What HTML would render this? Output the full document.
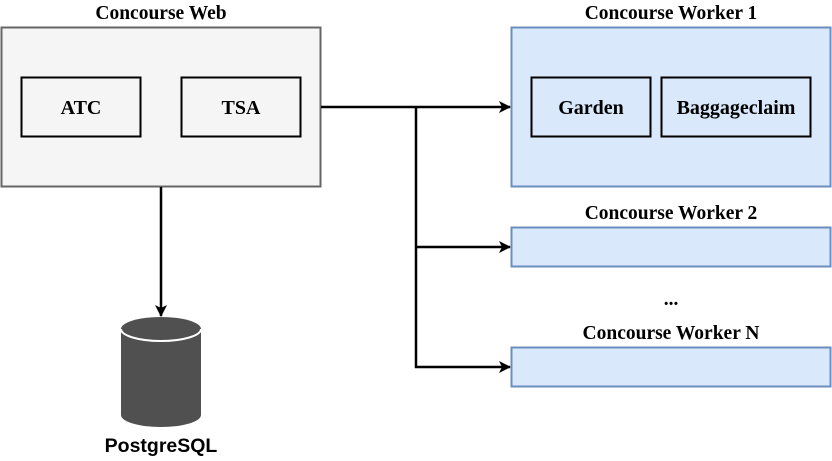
<!DOCTYPE html>
<html><head><style>body{margin:0;background:#fff}</style></head><body>
<svg width="832" height="456" xmlns="http://www.w3.org/2000/svg" font-family="Liberation Serif, serif" font-weight="bold">
<defs><marker id="a" markerWidth="12" markerHeight="12" refX="11" refY="6" orient="auto" markerUnits="userSpaceOnUse"><path d="M0,0 L12,6 L0,12 L3,6 z" fill="#000"/></marker></defs>
<rect x="1.5" y="27.5" width="319" height="159" fill="#f5f5f5" stroke="#666" stroke-width="2"/>
<rect x="21.5" y="77.5" width="119" height="59" fill="#f5f5f5" stroke="#000" stroke-width="2"/>
<rect x="181.5" y="77.5" width="119" height="59" fill="#f5f5f5" stroke="#000" stroke-width="2"/>
<text x="161" y="19" font-size="19.5" text-anchor="middle">Concourse Web</text>
<text x="81" y="114" font-size="20" text-anchor="middle">ATC</text>
<text x="241" y="114" font-size="20" text-anchor="middle">TSA</text>
<rect x="511.5" y="27.5" width="319" height="159" fill="#dae8fc" stroke="#6c8ebf" stroke-width="2"/>
<rect x="531.5" y="77.5" width="119" height="59" fill="#dae8fc" stroke="#000" stroke-width="2"/>
<rect x="661.5" y="77.5" width="149" height="59" fill="#dae8fc" stroke="#000" stroke-width="2"/>
<text x="671" y="19" font-size="19.5" text-anchor="middle">Concourse Worker 1</text>
<text x="591" y="114" font-size="20" text-anchor="middle">Garden</text>
<text x="736" y="114" font-size="20" text-anchor="middle">Baggageclaim</text>
<rect x="511.5" y="227.5" width="319" height="39" fill="#dae8fc" stroke="#6c8ebf" stroke-width="2"/>
<text x="671" y="219" font-size="19.5" text-anchor="middle">Concourse Worker 2</text>
<text x="671" y="305" font-size="19.5" text-anchor="middle">...</text>
<rect x="511.5" y="347.5" width="319" height="39" fill="#dae8fc" stroke="#6c8ebf" stroke-width="2"/>
<text x="671" y="339" font-size="19.5" text-anchor="middle">Concourse Worker N</text>
<g stroke="#000" stroke-width="2.5" fill="none">
<path d="M321,107 H510" marker-end="url(#a)"/>
<path d="M416,107 V367 H510" marker-end="url(#a)"/>
<path d="M416,247 H510" marker-end="url(#a)"/>
<path d="M161,187 V316" marker-end="url(#a)"/>
</g>
<path d="M121,329 A40,12 0 0 1 201,329 V415 A40,12 0 0 1 121,415 Z" fill="#505050"/>
<path d="M121,329 A40,12 0 0 0 201,329" fill="none" stroke="#fff" stroke-width="2"/>
<text x="161" y="452" font-size="19.5" text-anchor="middle" font-family="Liberation Sans, sans-serif">PostgreSQL</text>
</svg>
</body></html>
